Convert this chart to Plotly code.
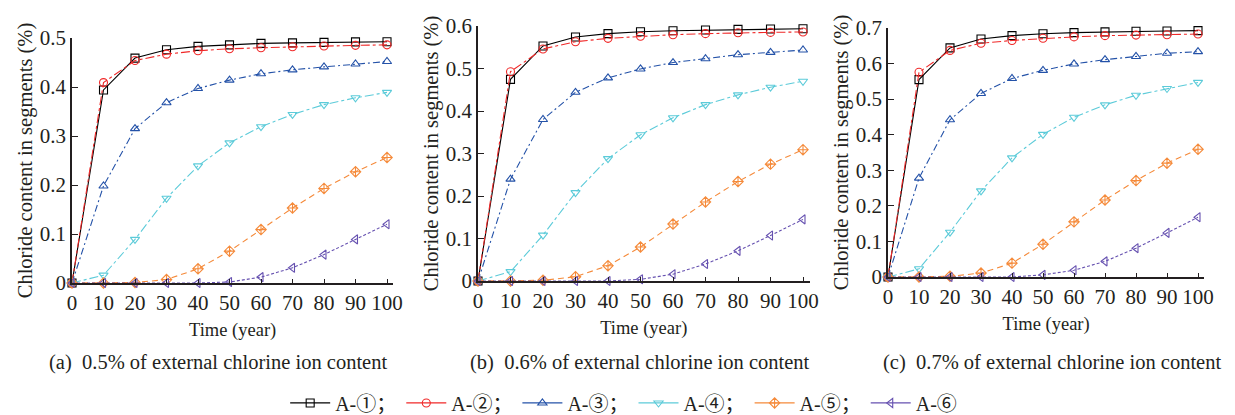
import plotly.graph_objects as go

years = [0, 10, 20, 30, 40, 50, 60, 70, 80, 90, 100]

# (a) 0.5% external chloride
a1 = [0, 0.394, 0.459, 0.476, 0.483, 0.486, 0.489, 0.490, 0.491, 0.492, 0.4925]
a2 = [0, 0.409, 0.454, 0.467, 0.474, 0.478, 0.480, 0.482, 0.4836, 0.485, 0.486]
a3 = [0, 0.198, 0.315, 0.368, 0.397, 0.414, 0.427, 0.435, 0.441, 0.447, 0.452]
a4 = [0, 0.016, 0.089, 0.173, 0.239, 0.286, 0.319, 0.344, 0.364, 0.378, 0.389]
a5 = [0, 0, 0.001, 0.007, 0.029, 0.065, 0.109, 0.153, 0.193, 0.227, 0.256]
a6 = [0, 0, 0, 0, 0, 0.002, 0.012, 0.031, 0.058, 0.089, 0.120]

# (b) 0.6% external chloride
b1 = [0, 0.4745, 0.553, 0.574, 0.582, 0.5865, 0.589, 0.5905, 0.592, 0.593, 0.5935]
b2 = [0, 0.4925, 0.546, 0.563, 0.571, 0.576, 0.5795, 0.582, 0.584, 0.585, 0.586]
b3 = [0, 0.2396, 0.380, 0.444, 0.478, 0.499, 0.514, 0.523, 0.5325, 0.538, 0.5435]
b4 = [0, 0.022, 0.108, 0.208, 0.288, 0.344, 0.384, 0.415, 0.438, 0.456, 0.470]
b5 = [0, 0, 0.0016, 0.010, 0.036, 0.080, 0.134, 0.186, 0.234, 0.275, 0.309]
b6 = [0, 0, 0, 0, 0, 0.004, 0.016, 0.040, 0.071, 0.107, 0.145]

# (c) 0.7% external chloride
c1 = [0, 0.555, 0.644, 0.669, 0.6785, 0.684, 0.687, 0.689, 0.6907, 0.6917, 0.6926]
c2 = [0, 0.5755, 0.637, 0.657, 0.665, 0.671, 0.675, 0.6785, 0.680, 0.681, 0.683]
c3 = [0, 0.278, 0.442, 0.516, 0.558, 0.581, 0.599, 0.611, 0.620, 0.629, 0.6335]
c4 = [0, 0.023, 0.126, 0.242, 0.335, 0.401, 0.449, 0.484, 0.511, 0.530, 0.547]
c5 = [0, 0, 0.002, 0.011, 0.039, 0.092, 0.155, 0.2165, 0.271, 0.320, 0.359]
c6 = [0, 0, 0, 0, 0, 0.006, 0.019, 0.044, 0.081, 0.124, 0.168]

series_names = ["A-①；", "A-②；", "A-③；", "A-④；", "A-⑤；", "A-⑥"]
panel_data = [[a1, a2, a3, a4, a5, a6], [b1, b2, b3, b4, b5, b6], [c1, c2, c3, c4, c5, c6]]
panel_ymax = [0.5, 0.6, 0.7]
x_ticks = [0, 10, 20, 30, 40, 50, 60, 70, 80, 90, 100]
captions = ["(a)  0.5% of external chlorine ion content",
            "(b)  0.6% of external chlorine ion content",
            "(c)  0.7% of external chlorine ion content"]
x_title = "Time (year)"
y_title = "Chloride content in segments (%)"

colors = ["#000000", "#f02828", "#2452a8", "#5ccbd9", "#f58a3a", "#6651b0"]
symbols = ["square-open", "circle-open", "triangle-up-open", "triangle-down-open",
           "diamond-cross-open", "triangle-left-open"]
dashes = ["solid", "dashdot", "7px,3px,2px,3px", "dashdot", "6px,4px", "3px,2px"]

W, H = 1235, 415
FONT = "Liberation Serif, Noto Sans CJK SC, serif"

# pixel layout of the three panels: (x0_px, px_per_unit, ybottom_px, ytop_px)
panels_px = [(72, 3.15, 283, 38), (478, 3.25, 281, 26), (888, 3.10, 277, 28)]
XMAX = 102

fig = go.Figure()
layout = {}
for p, (data, ymax, (x0, ppu, yb, yt)) in enumerate(zip(panel_data, panel_ymax, panels_px)):
    xa = "xaxis" if p == 0 else f"xaxis{p+1}"
    ya = "yaxis" if p == 0 else f"yaxis{p+1}"
    xr = "x" if p == 0 else f"x{p+1}"
    yr = "y" if p == 0 else f"y{p+1}"
    for i, vals in enumerate(data):
        fig.add_trace(go.Scatter(
            x=years, y=vals, mode="lines+markers", xaxis=xr, yaxis=yr,
            line=dict(color=colors[i], width=1.1, dash=dashes[i]),
            marker=dict(symbol=symbols[i], size=8, color=colors[i], line=dict(width=1.1, color=colors[i])),
            showlegend=False, cliponaxis=False))
    yticks = [round(k * 0.1, 1) for k in range(int(round(ymax * 10)) + 1)]
    ytext = ["0" if v == 0 else f"{v:.1f}" for v in yticks]
    layout[xa] = dict(
        domain=[x0 / W, (x0 + XMAX * ppu) / W], range=[0, XMAX], anchor=yr,
        tickvals=x_ticks, ticktext=[str(v) for v in x_ticks], tickangle=0,
        showline=True, linecolor="#231f20", linewidth=1.5, showgrid=False, zeroline=False,
        ticks="inside", ticklen=4, tickcolor="#231f20", automargin=False,
        tickfont=dict(family=FONT, size=21, color="#231f20"),
        title=dict(text=x_title, font=dict(family=FONT, size=18.5, color="#231f20"), standoff=9))
    layout[ya] = dict(
        domain=[1 - yb / H, 1 - yt / H], range=[0, ymax], anchor=xr,
        tickvals=yticks, ticktext=ytext,
        showline=True, linecolor="#231f20", linewidth=1.5, showgrid=False, zeroline=False,
        ticks="inside", ticklen=6, tickcolor="#231f20", automargin=False,
        tickfont=dict(family=FONT, size=21, color="#231f20"),
        title=dict(text=y_title, font=dict(family=FONT, size=20.5, color="#231f20"), standoff=2))

# legend entries (solid lines as in the reference key)
for i, name in enumerate(series_names):
    fig.add_trace(go.Scatter(
        x=[None], y=[None], mode="lines+markers", name=name,
        line=dict(color=colors[i], width=1.3),
        marker=dict(symbol=symbols[i], size=8, color=colors[i], line=dict(width=1.1, color=colors[i])),
        showlegend=True))

annotations = []
cap_x = [218, 640, 1052]
for cx, cap in zip(cap_x, captions):
    annotations.append(dict(text=cap, x=cx / W, y=1 - 362 / H, xref="paper", yref="paper",
                            xanchor="center", yanchor="middle", showarrow=False,
                            font=dict(family=FONT, size=20.5, color="#231f20")))

fig.update_layout(
    width=W, height=H, margin=dict(l=0, r=0, t=0, b=0, autoexpand=False),
    plot_bgcolor="white", paper_bgcolor="white",
    showlegend=True,
    legend=dict(orientation="h", x=0.505, xanchor="center", y=-0.018, yanchor="bottom",
                font=dict(family=FONT, size=20, color="#231f20"), itemwidth=40,
                tracegroupgap=0, bgcolor="rgba(0,0,0,0)"),
    annotations=annotations,
    **layout)

fig.write_html("out.html")
